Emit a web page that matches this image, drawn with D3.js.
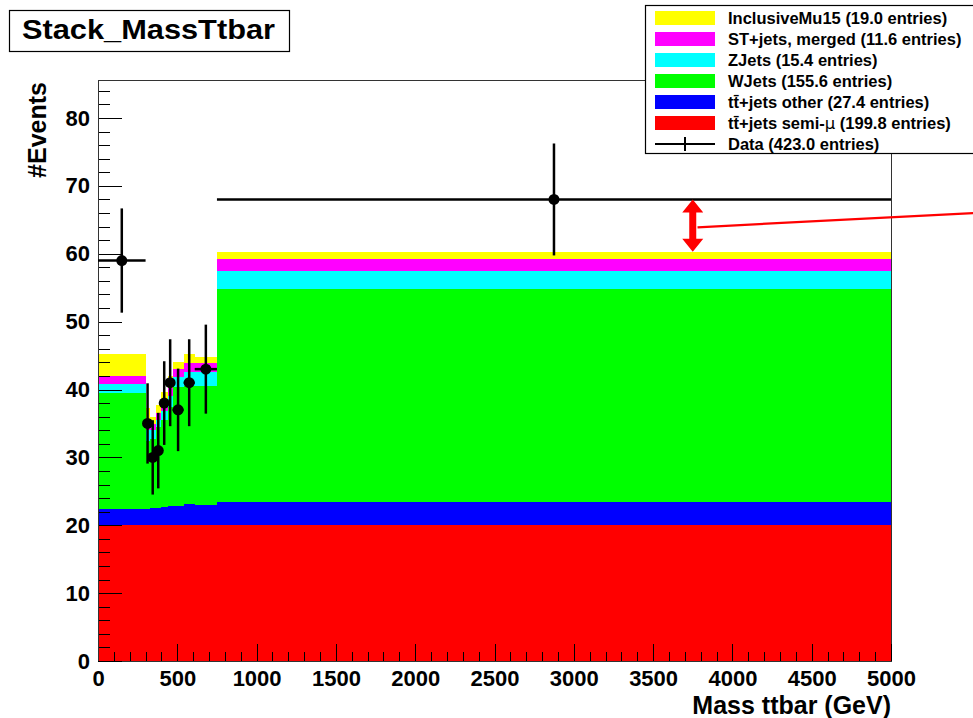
<!DOCTYPE html>
<html>
<head>
<meta charset="utf-8">
<script src="https://cdn.jsdelivr.net/npm/d3@7"></script>
<style>
  html, body { margin: 0; padding: 0; background: #fff; }
  svg { display: block; font-family: "Liberation Sans", Arial, Helvetica, sans-serif; font-weight: bold; }
</style>
</head>
<body>
<svg id="chart" width="973" height="718"></svg>
<script>
// ---------------- data ----------------
const binEdges   = [0, 300, 325, 365, 395, 440, 470, 540, 610, 750, 5000];
const semiMu     = [19.98, 19.98, 19.98, 19.98, 19.98, 19.98, 19.98, 19.98, 19.98, 19.98];
const ttOther    = [2.4, 2.4, 2.5, 2.6, 2.7, 2.8, 2.9, 3.1, 3.0, 3.5];
const wJets      = [17.1, 10.1, 10.3, 11.9, 12.8, 14.7, 17.5, 17.5, 17.6, 31.4];
const zJets      = [1.3, 1.5, 1.3, 1.1, 1.3, 1.5, 1.5, 2.0, 2.0, 2.6];
const stJets     = [1.2, 1.4, 0.9, 1.0, 1.2, 1.3, 1.2, 1.3, 1.3, 1.7];
const incMu15    = [3.3, 1.9, 1.0, 1.1, 1.7, 1.7, 1.0, 1.3, 0.9, 1.1];
const dataCounts = [59, 35, 30, 31, 38, 41, 37, 41, 43, 68];

const seriesKeys   = ["semiMu", "ttOther", "wJets", "zJets", "stJets", "incMu15"];
const seriesColors = ["#ff0000", "#0000ff", "#00ff00", "#00ffff", "#ff00ff", "#ffff00"];

const legendLabels = [
  "InclusiveMu15 (19.0 entries)",
  "ST+jets, merged (11.6 entries)",
  "ZJets (15.4 entries)",
  "WJets (155.6 entries)",
  "tt\u0304+jets other (27.4 entries)",
  "tt\u0304+jets semi-",
  "Data (423.0 entries)"
];
const legendColors = ["#ffff00", "#ff00ff", "#00ffff", "#00ff00", "#0000ff", "#ff0000", null];

const xMajorTicks = [0, 500, 1000, 1500, 2000, 2500, 3000, 3500, 4000, 4500, 5000];
const yMajorTicks = [0, 10, 20, 30, 40, 50, 60, 70, 80];
const titleText  = "Stack_MassTtbar";
const xTitle     = "Mass ttbar (GeV)";
const yTitle     = "#Events";
const arrowMass  = 3750;
const pointerLine = [{m: 3780, v: 63.9}, {m: 5600, v: 66.1}];

// ---------------- layout ----------------
const svg = d3.select("#chart");
const x = d3.scaleLinear().domain([0, 5000]).range([98, 891]);
const y = d3.scaleLinear().domain([0, 85.6]).range([661, 80]);

const bins = binEdges.slice(0, -1).map((e, i) => ({
  x0: e, x1: binEdges[i + 1],
  semiMu: semiMu[i], ttOther: ttOther[i], wJets: wJets[i],
  zJets: zJets[i], stJets: stJets[i], incMu15: incMu15[i],
  data: dataCounts[i]
}));

const stacked = d3.stack().keys(seriesKeys)(bins);

// frame background
svg.append("rect").attr("x", x(0)).attr("y", y(85.6))
  .attr("width", x(5000) - x(0)).attr("height", y(0) - y(85.6))
  .attr("fill", "#fff");

// stacked fills
const layerG = svg.append("g").attr("shape-rendering", "crispEdges");
stacked.forEach((layer, li) => {
  layerG.append("g").attr("fill", seriesColors[li])
    .selectAll("rect").data(layer).join("rect")
    .attr("x", d => x(d.data.x0))
    .attr("width", d => x(d.data.x1) - x(d.data.x0))
    .attr("y", d => y(d[1]))
    .attr("height", d => y(d[0]) - y(d[1]));
});

// frame
svg.append("rect").attr("x", x(0)).attr("y", y(85.6))
  .attr("width", x(5000) - x(0)).attr("height", y(0) - y(85.6))
  .attr("fill", "none").attr("stroke", "#333").attr("stroke-width", 1)
  .attr("shape-rendering", "crispEdges");

// axes
const yAxis = d3.axisLeft(y).tickValues(yMajorTicks).tickSize(-24).tickPadding(8).tickFormat(d3.format("d"));
const yMinor = d3.axisLeft(y).tickValues(d3.range(0, 86, 2).filter(v => v % 10 !== 0)).tickSize(-12).tickFormat("");
const xAxis = d3.axisBottom(x).tickValues(xMajorTicks).tickSize(-17).tickPadding(9).tickFormat(d3.format("d"));
const xMinor = d3.axisBottom(x).tickValues(d3.range(0, 5001, 100).filter(v => v % 500 !== 0)).tickSize(-9).tickFormat("");

function styleAxis(g) {
  g.select(".domain").remove();
  g.selectAll(".tick line").attr("stroke", "#000").attr("stroke-width", 1).attr("shape-rendering", "crispEdges");
  g.selectAll(".tick text").attr("fill", "#000").attr("font-size", 22).attr("font-weight", "bold")
    .attr("font-family", "'Liberation Sans', Arial, sans-serif");
}
svg.append("g").attr("transform", `translate(${x(0)},0)`).call(yMinor).call(styleAxis);
svg.append("g").attr("transform", `translate(${x(0)},0)`).call(yAxis).call(styleAxis);
svg.append("g").attr("transform", `translate(0,${y(0)})`).call(xMinor).call(styleAxis);
svg.append("g").attr("transform", `translate(0,${y(0)})`).call(xAxis).call(styleAxis);

// axis line on left (over fills)
svg.append("line").attr("x1", x(0)).attr("x2", x(0)).attr("y1", y(0)).attr("y2", y(85.6))
  .attr("stroke", "#333").attr("shape-rendering", "crispEdges");

// data points with errors
const dataG = svg.append("g");
bins.forEach(b => {
  const cx = x((b.x0 + b.x1) / 2);
  const err = Math.sqrt(b.data);
  dataG.append("line").attr("x1", cx).attr("x2", cx)
    .attr("y1", y(b.data - err)).attr("y2", y(b.data + err))
    .attr("stroke", "#000").attr("stroke-width", 2.5);
  dataG.append("line").attr("x1", x(b.x0)).attr("x2", x(b.x1))
    .attr("y1", y(b.data)).attr("y2", y(b.data))
    .attr("stroke", "#000").attr("stroke-width", 2.5);
  dataG.append("circle").attr("cx", cx).attr("cy", y(b.data)).attr("r", 5.5).attr("fill", "#000");
});

// red double arrow between data and stack total in last bin
const last = bins[bins.length - 1];
const stackTop = seriesKeys.reduce((s, k) => s + last[k], 0);
const ax = x(arrowMass);
const yTopA = y(last.data), yBotA = y(stackTop);
const hw = 10.5, hh = 13, sw = 3.5;
const arrowPts = [
  [ax, yTopA], [ax + hw, yTopA + hh], [ax + sw, yTopA + hh],
  [ax + sw, yBotA - hh], [ax + hw, yBotA - hh], [ax, yBotA],
  [ax - hw, yBotA - hh], [ax - sw, yBotA - hh], [ax - sw, yTopA + hh],
  [ax - hw, yTopA + hh]
];
svg.append("polygon").attr("points", arrowPts.map(p => p.join(",")).join(" ")).attr("fill", "#ff0000");
svg.append("line")
  .attr("x1", x(pointerLine[0].m)).attr("y1", y(pointerLine[0].v))
  .attr("x2", x(pointerLine[1].m)).attr("y2", y(pointerLine[1].v))
  .attr("stroke", "#ff0000").attr("stroke-width", 2.2);

// title box
svg.append("rect").attr("x", 9.5).attr("y", 10.5).attr("width", 280).attr("height", 41)
  .attr("fill", "#fff").attr("stroke", "#000").attr("stroke-width", 1.2);
svg.append("text").attr("x", 22).attr("y", 39).attr("font-size", 27)
  .attr("textLength", 253).attr("lengthAdjust", "spacingAndGlyphs").text(titleText);

// axis titles
svg.append("text").attr("transform", "translate(46,82) rotate(-90)")
  .attr("text-anchor", "end").attr("font-size", 25).text(yTitle);
svg.append("text").attr("x", 891).attr("y", 714).attr("text-anchor", "end")
  .attr("font-size", 25).text(xTitle);

// legend
const lg = svg.append("g");
lg.append("rect").attr("x", 645.5).attr("y", 5.5).attr("width", 340).attr("height", 148)
  .attr("fill", "#fff").attr("stroke", "#000").attr("stroke-width", 1.2);
legendLabels.forEach((lab, i) => {
  const cy = 18 + i * 21;
  if (legendColors[i]) {
    lg.append("rect").attr("x", 655).attr("y", cy - 7).attr("width", 60).attr("height", 14)
      .attr("fill", legendColors[i]);
  } else {
    lg.append("line").attr("x1", 655).attr("x2", 715).attr("y1", cy).attr("y2", cy)
      .attr("stroke", "#000").attr("stroke-width", 2);
    lg.append("line").attr("x1", 685).attr("x2", 685).attr("y1", cy - 7).attr("y2", cy + 7)
      .attr("stroke", "#000").attr("stroke-width", 2);
  }
  const t = lg.append("text").attr("x", 728).attr("y", cy + 6).attr("font-size", 16.5);
  if (i === 5) {
    t.append("tspan").text(lab);
    t.append("tspan").attr("font-weight", "normal").attr("font-family", "'DejaVu Sans', sans-serif").text("\u03bc");
    t.append("tspan").text(" (199.8 entries)");
  } else {
    t.text(lab);
  }
});
</script>
</body>
</html>
